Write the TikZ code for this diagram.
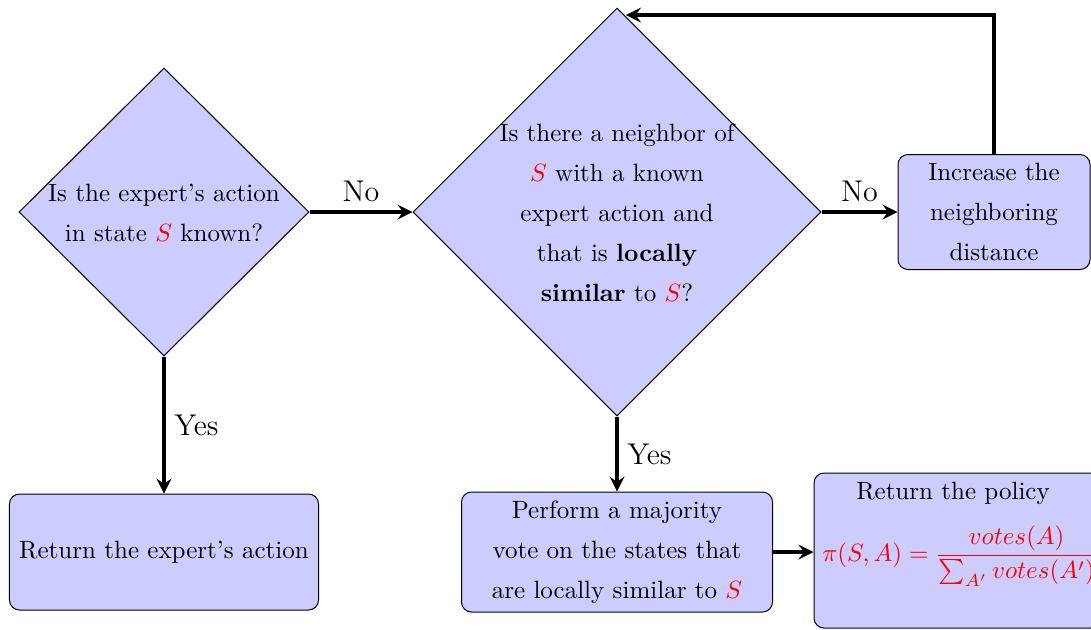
\documentclass[tikz,border=0pt]{standalone}
\usetikzlibrary{shapes.geometric,calc}
\begin{document}
\begin{tikzpicture}[x=0.4pt,y=-0.4pt,
  decision/.style={diamond,draw=black,fill=blue!20,inner sep=0pt},
  procbox/.style={rectangle,rounded corners=4pt,draw=black,fill=blue!20,inner sep=0pt,
    align=center,font=\fontsize{10}{16}\selectfont},
  dtext/.style={align=center,inner sep=0pt,font=\fontsize{10}{16}\selectfont},
  flow/.style={ultra thick,-stealth},
  lbl/.style={font=\large}]
\useasboundingbox (0,0) rectangle (1091,629);
\newcommand{\rs}{\textcolor{red}{$S$}}

% decisions
\node[decision,minimum width=116pt,minimum height=115.2pt] (d1) at (164,212) {};
\node[dtext] (d1t) at (164,213) {Is the expert's action\\in state \rs{} known?};

\node[decision,minimum width=163.2pt,minimum height=163.2pt] (d2) at (617,212) {};
\node[dtext] (d2t) at (617,213) {Is there a neighbor of\\\rs{} with a known\\expert action and\\that is \textbf{locally}\\\textbf{similar} to \rs?};

% process boxes
\node[procbox,minimum width=76.8pt,minimum height=46pt] (inc) at (994,212)
  {Increase the\\neighboring\\distance};
\node[procbox,minimum width=123.6pt,minimum height=46.4pt] (ret) at (164,552)
  {Return the expert's action};
\node[procbox,minimum width=124.4pt,minimum height=48pt] (vote) at (617,552)
  {Perform a majority\\vote on the states that\\are locally similar to \rs};
\node[procbox,minimum width=114.4pt,minimum height=62pt] (pol) at (957,550.5) {};
\node[dtext] (polt) at (953,493) {Return the policy};
\node[dtext,text=red] (polf) at (960,556)
  {$\pi(S,A)=\displaystyle\frac{votes(A)}{\sum_{A'} votes(A')}$};

% connectors
\coordinate (loopend) at (626,15);
\draw[flow] (d1.east) -- node[above,lbl] {No} (d2.west);
\draw[flow] (d2.east) -- node[above,lbl] {No} (inc.west);
\draw[flow] (inc.north) |- (loopend);
\draw[flow] (d1.south) -- node[right,lbl] {Yes} (ret.north);
\draw[flow] (d2.south) -- node[right,lbl] {Yes} (vote.north);
\draw[flow] (vote.east) -- (vote.east -| pol.west);
\end{tikzpicture}
\end{document}
